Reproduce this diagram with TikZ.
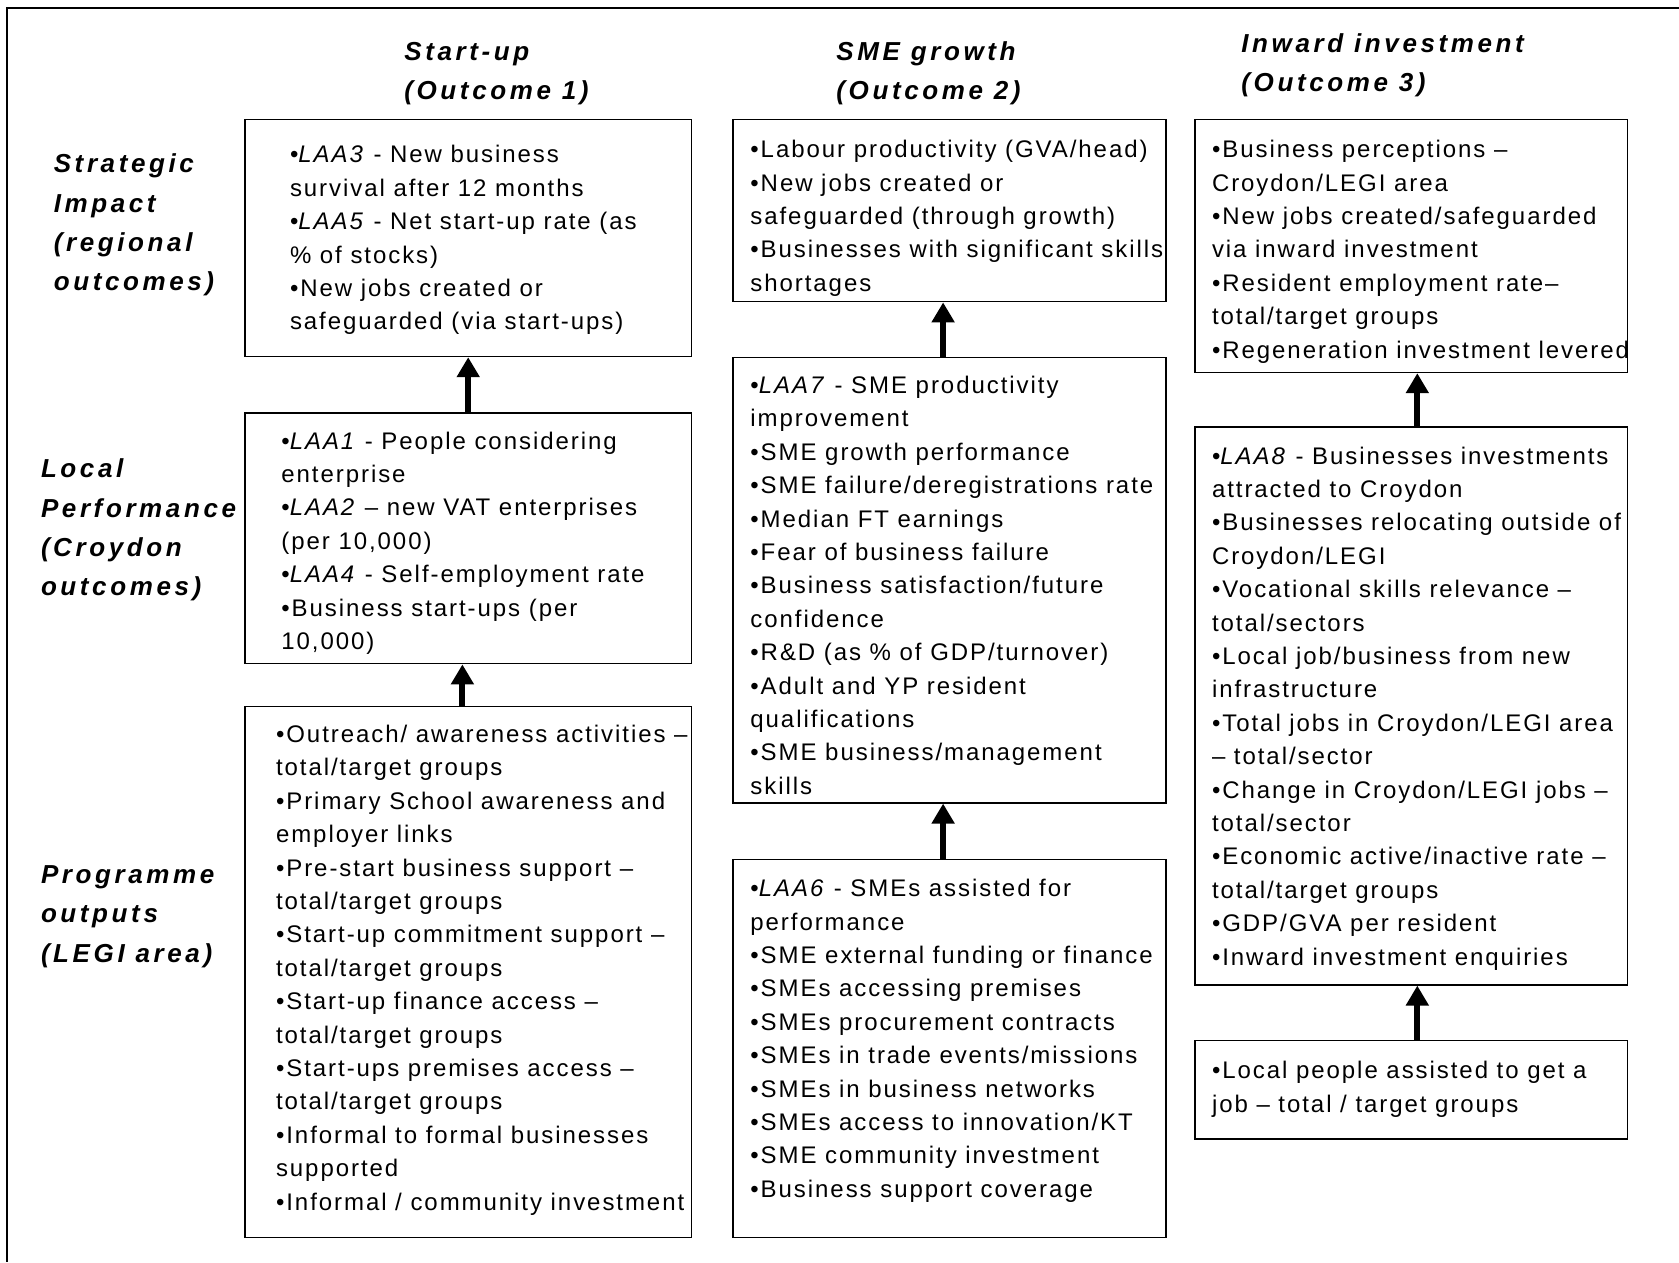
\documentclass[tikz,border=0pt]{standalone}
\usepackage{fontspec}
\setmainfont{Liberation Sans}[LetterSpace=8.1]
\newfontfamily\headfont{Liberation Sans}[LetterSpace=13.9]
\usetikzlibrary{arrows.meta}

% text of one box: width, height, left inset, first baseline, lines
\newcommand{\cell}[5]{\parbox[c][#2][t]{#1}{\fontsize{12}{16.7}\selectfont
  \parindent=0pt\leftskip=#3\rightskip=-60pt plus 1fil\rule{0pt}{#4}#5}}

\begin{document}
\begin{tikzpicture}[
  x=1pt, y=-1pt,
  box/.style={draw, line width=0.8pt, anchor=north west, inner sep=0pt},
  head/.style={anchor=base west, inner sep=0pt,
    font=\headfont\bfseries\itshape\fontsize{13}{19.3}\selectfont},
  rowlab/.style={head, font=\headfont\bfseries\itshape\fontsize{13}{19.7}\selectfont},
  up/.style={-{Triangle[width=11pt,length=10pt]}, line width=3pt}
]
\useasboundingbox (0,0) rectangle (839.5,631);
\draw[line width=1pt] (839.5,3.9) -- (3.4,3.9) -- (3.4,631);

% column heads
\node[head] (hd1) at (202,30.5) {\parbox[t]{150pt}{Start-up\\(Outcome 1)}};
\node[head] (hd2) at (418,30.5) {\parbox[t]{150pt}{SME growth\\(Outcome 2)}};
\node[head] (hd3) at (620.5,26.3) {\parbox[t]{180pt}{Inward investment\\(Outcome 3)}};

% row labels
\node[rowlab] (rl1) at (26.7,86.4) {\parbox[t]{100pt}{Strategic\\Impact\\(regional\\outcomes)}};
\node[rowlab] (rl2) at (20.3,238.8) {\parbox[t]{110pt}{Local\\Performance\\(Croydon\\outcomes)}};
\node[rowlab] (rl3) at (20.3,441.7) {\parbox[t]{100pt}{Programme\\outputs\\(LEGI area)}};

% start-up
\node[box] (imp1) at (122.1,59.4) {\cell{223.2pt}{118.4pt}{22.5pt}{21.7pt}{%
  •\textit{LAA3} - New business\\
  survival after 12 months\\
  •\textit{LAA5} - Net start-up rate (as\\
  \% of stocks)\\
  •New jobs created or\\
  safeguarded (via start-ups)}};
\node[box] (perf1) at (122.1,206.1) {\cell{223.2pt}{125.3pt}{18.2pt}{18pt}{%
  •\textit{LAA1} - People considering\\
  enterprise\\
  •\textit{LAA2} – new VAT enterprises\\
  (per 10,000)\\
  •\textit{LAA4} - Self-employment rate\\
  •Business start-ups (per\\
  10,000)}};
\node[box] (outp1) at (122.1,352.8) {\cell{223.2pt}{265.6pt}{15.5pt}{18pt}{%
  •Outreach/ awareness activities –\\
  total/target groups\\
  •Primary School awareness and\\
  employer links\\
  •Pre-start business support –\\
  total/target groups\\
  •Start-up commitment support –\\
  total/target groups\\
  •Start-up finance access –\\
  total/target groups\\
  •Start-ups premises access –\\
  total/target groups\\
  •Informal to formal businesses\\
  supported\\
  •Informal / community investment}};

% SME growth
\node[box] (imp2) at (366.2,59.4) {\cell{216.3pt}{91pt}{8.6pt}{19.1pt}{%
  •Labour productivity (GVA/head)\\
  •New jobs created or\\
  safeguarded (through growth)\\
  •Businesses with significant skills\\
  shortages}};
\node[box] (perf2) at (366.2,178.3) {\cell{216.3pt}{222.7pt}{8.6pt}{18pt}{%
  •\textit{LAA7} - SME productivity\\
  improvement\\
  •SME growth performance\\
  •SME failure/deregistrations rate\\
  •Median FT earnings\\
  •Fear of business failure\\
  •Business satisfaction/future\\
  confidence\\
  •R\&D (as \% of GDP/turnover)\\
  •Adult and YP resident\\
  qualifications\\
  •SME business/management\\
  skills}};
\node[box] (outp2) at (366.2,429.4) {\cell{216.3pt}{189pt}{8.6pt}{18.5pt}{%
  •\textit{LAA6} - SMEs assisted for\\
  performance\\
  •SME external funding or finance\\
  •SMEs accessing premises\\
  •SMEs procurement contracts\\
  •SMEs in trade events/missions\\
  •SMEs in business networks\\
  •SMEs access to innovation/KT\\
  •SME community investment\\
  •Business support coverage}};

% inward investment
\node[box] (imp3) at (597,59.4) {\cell{216.3pt}{126.4pt}{8.6pt}{19.1pt}{%
  •Business perceptions –\\
  Croydon/LEGI area\\
  •New jobs created/safeguarded\\
  via inward investment\\
  •Resident employment rate–\\
  total/target groups\\
  •Regeneration investment levered}};
\node[box] (perf3) at (597,213.1) {\cell{216.3pt}{278.9pt}{8.6pt}{18.5pt}{%
  •\textit{LAA8} - Businesses investments\\
  attracted to Croydon\\
  •Businesses relocating outside of\\
  Croydon/LEGI\\
  •Vocational skills relevance –\\
  total/sectors\\
  •Local job/business from new\\
  infrastructure\\
  •Total jobs in Croydon/LEGI area\\
  – total/sector\\
  •Change in Croydon/LEGI jobs –\\
  total/sector\\
  •Economic active/inactive rate –\\
  total/target groups\\
  •GDP/GVA per resident\\
  •Inward investment enquiries}};
\node[box] (outp3) at (597,519.9) {\cell{216.3pt}{49.2pt}{8.6pt}{19.1pt}{%
  •Local people assisted to get a\\
  job – total / target groups}};

% arrows
\draw[up] (perf1.north) -- (imp1.south);
\draw[up] ([xshift=-2.9pt]outp1.north) -- ([xshift=-2.9pt]perf1.south);
\draw[up] ([xshift=-3.2pt]perf2.north) -- ([xshift=-3.2pt]imp2.south);
\draw[up] ([xshift=-3.2pt]outp2.north) -- ([xshift=-3.2pt]perf2.south);
\draw[up] ([xshift=3.1pt]perf3.north) -- ([xshift=3.1pt]imp3.south);
\draw[up] ([xshift=3.1pt]outp3.north) -- ([xshift=3.1pt]perf3.south);
\end{tikzpicture}
\end{document}
